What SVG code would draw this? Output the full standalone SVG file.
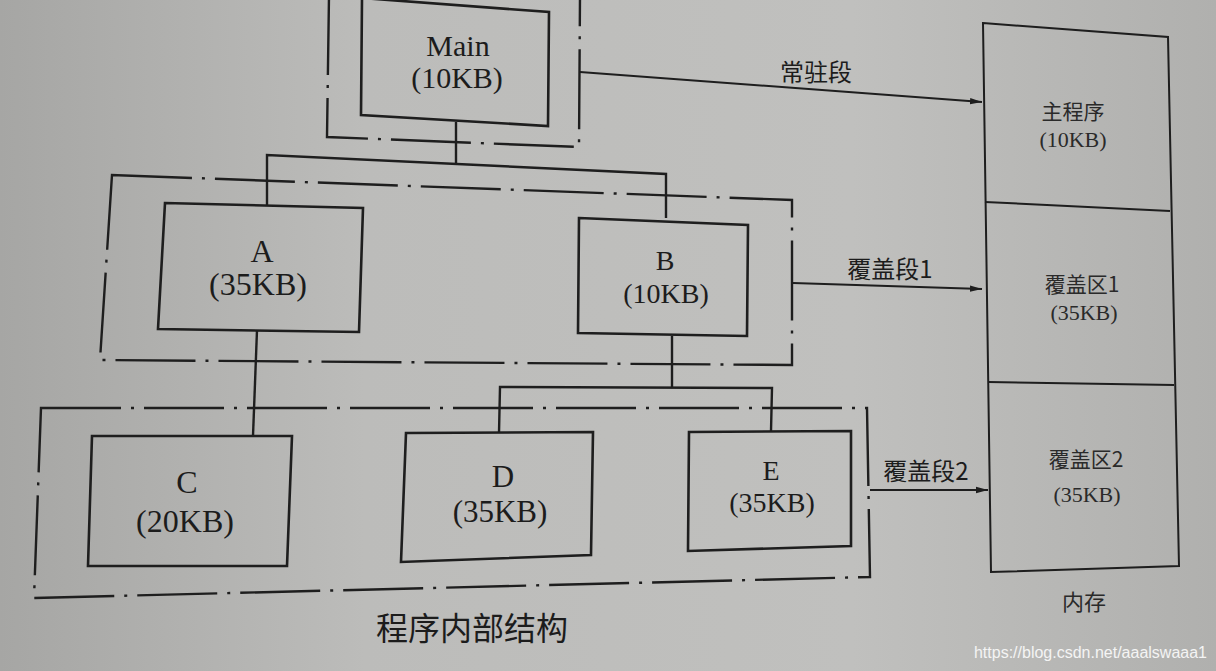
<svg xmlns="http://www.w3.org/2000/svg" width="1216" height="671" viewBox="0 0 1216 671">
<defs>
<linearGradient id="bg" x1="0" y1="0" x2="1" y2="0">
<stop offset="0" stop-color="#a6a6a4"/>
<stop offset="0.3" stop-color="#bcbcba"/>
<stop offset="0.7" stop-color="#c0c0be"/>
<stop offset="1" stop-color="#b0b0ae"/>
</linearGradient>
<marker id="arr" markerWidth="12" markerHeight="8" refX="12" refY="4" orient="auto" markerUnits="userSpaceOnUse">
<path d="M0,0.8 L12,4 L0,7.2 Z" fill="#1e1e1e"/>
</marker>
</defs>
<style>
.box{fill:none;stroke:#1e1e1e;stroke-width:2.6;stroke-linejoin:miter}
.frame{fill:none;stroke:#1e1e1e;stroke-width:2.4;stroke-dasharray:80 10 3 10}
.ln{fill:none;stroke:#1e1e1e;stroke-width:2.4}
.ar{fill:none;stroke:#1e1e1e;stroke-width:2;marker-end:url(#arr)}
.t{font-family:"Liberation Serif","Noto Sans CJK SC",serif;fill:#1c1c1c;text-anchor:middle}
.c{font-family:"Noto Sans CJK SC","Liberation Serif",sans-serif;fill:#1c1c1c;text-anchor:middle}
.m{font-family:"Liberation Serif","Noto Sans CJK SC",serif;fill:#2a2a2a;text-anchor:middle}
.mc{font-family:"Noto Sans CJK SC","Liberation Serif",sans-serif;fill:#2a2a2a;text-anchor:middle}
</style>
<rect x="0" y="0" width="1216" height="671" fill="url(#bg)"/>

<g id="frames">
<polyline class="frame" points="329,-5 327,137 579,147 580,-5"/>
<polygon class="frame" points="112,175 792,200 792,365 100,360"/>
<polygon class="frame" points="41,408 867,408 870,577 34,598"/>
</g>

<g id="connectors">
<line class="ln" x1="456" y1="122" x2="456" y2="164"/>
<polyline class="ln" points="267,205 267,155 666,174 666,218"/>
<line class="ln" x1="257" y1="330" x2="253" y2="436"/>
<line class="ln" x1="672" y1="336" x2="672" y2="387"/>
<polyline class="ln" points="499,433 500,387 772,388 771,431"/>
<line class="ar" x1="580" y1="72" x2="982" y2="102"/>
<line class="ar" x1="793" y1="283" x2="982" y2="289"/>
<line class="ar" x1="870" y1="490" x2="988" y2="490"/>
</g>

<g id="main">
<polygon class="box" points="362,-2 549,12 548,126 361,115"/>
<text class="t" x="458" y="56" font-size="30">Main</text>
<text class="t" x="457" y="88" font-size="30">(10KB)</text>
</g>
<g id="A">
<polygon class="box" points="165,203 363,208 359,332 158,329"/>
<text class="t" x="262" y="262" font-size="32">A</text>
<text class="t" x="258" y="295" font-size="32">(35KB)</text>
</g>
<g id="B">
<polygon class="box" points="579,218 748,225 747,336 578,333"/>
<text class="t" x="665" y="270" font-size="28">B</text>
<text class="t" x="666" y="303" font-size="28">(10KB)</text>
</g>
<g id="C">
<polygon class="box" points="92,436 292,436 287,566 88,566"/>
<text class="t" x="187" y="493" font-size="32">C</text>
<text class="t" x="185" y="532" font-size="32">(20KB)</text>
</g>
<g id="D">
<polygon class="box" points="406,433 593,432 591,555 401,562"/>
<text class="t" x="503" y="487" font-size="31">D</text>
<text class="t" x="500" y="522" font-size="31">(35KB)</text>
</g>
<g id="E">
<polygon class="box" points="689,432 851,431 851,546 688,551"/>
<text class="t" x="771" y="480" font-size="28">E</text>
<text class="t" x="772" y="512" font-size="28">(35KB)</text>
</g>

<g id="memory">
<polygon class="box" points="983,23 1168,37 1179,566 991,572" style="stroke-width:2"/>
<line class="ln" x1="985" y1="202" x2="1170" y2="211" style="stroke-width:2"/>
<line class="ln" x1="988" y1="382" x2="1174" y2="385" style="stroke-width:2"/>
<text class="mc" x="1073" y="119" font-size="21">主程序</text>
<text class="m" x="1073" y="147" font-size="22">(10KB)</text>
<text class="mc" x="1082" y="292" font-size="21">覆盖区1</text>
<text class="m" x="1084" y="320" font-size="22">(35KB)</text>
<text class="mc" x="1086" y="467" font-size="21">覆盖区2</text>
<text class="m" x="1087" y="502" font-size="22">(35KB)</text>
<text class="mc" x="1084" y="610" font-size="22">内存</text>
</g>

<g id="labels">
<text class="c" x="816" y="81" font-size="24">常驻段</text>
<text class="c" x="890" y="278" font-size="24">覆盖段1</text>
<text class="c" x="926" y="480" font-size="24">覆盖段2</text>
<text class="c" x="472" y="640" font-size="32">程序内部结构</text>
<text x="1207" y="658" font-family="Liberation Sans,Arial,sans-serif" font-size="16" fill="#f4f4f4" text-anchor="end">https://blog.csdn.net/aaalswaaa1</text>
</g>
</svg>
